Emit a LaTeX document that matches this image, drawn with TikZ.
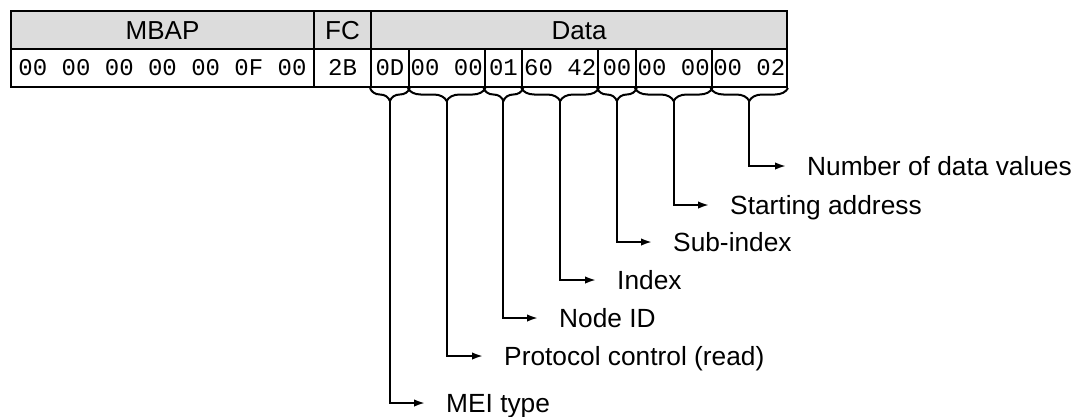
\documentclass[tikz,border=0pt]{standalone}
\usepackage{fontspec}
\setmainfont{Liberation Sans}
\newfontfamily\monof{Liberation Mono}
\usetikzlibrary{arrows.meta,decorations.pathreplacing}
\definecolor{hdrgray}{HTML}{DCDCDC}
\begin{document}
\begin{tikzpicture}[x=1pt,y=-1pt,
  cellbase/.style={draw, line width=2pt, inner sep=0pt, anchor=north west, minimum height=38pt},
  hdr/.style={cellbase, fill=hdrgray, font=\fontsize{26}{31}\selectfont, text height=18.6pt, text depth=0pt},
  dat/.style={cellbase, fill=white, font=\monof\fontsize{24}{28}\selectfont, text height=14pt, text depth=0pt},
  bracestyle/.style={draw, line width=2pt, decorate, decoration={brace, mirror, amplitude=13pt}},
  arr/.style={draw, line width=2pt, -{Latex[length=11pt,width=7.5pt]}, shorten >=21pt},
  lbl/.style={anchor=west, inner sep=0pt, font=\fontsize{26.3}{31}\selectfont, text height=18.8pt, text depth=0pt}]
\useasboundingbox (0,0) rectangle (1078,416);
% header row
\node[hdr, minimum width=303pt] (mbap) at (10,10) {MBAP};
\node[hdr, minimum width=57pt] (fc) at (313,10) {FC};
\node[hdr, minimum width=416pt] (data) at (370,10) {Data};
% data row
\node[dat, minimum width=303pt] (dmbap) at (10,48) {00 00 00 00 00 0F 00};
\node[dat, minimum width=57pt] (dfc) at (313,48) {2B};
\node[dat, minimum width=37.8pt] (c1) at (370,48) {0D};
\node[dat, minimum width=75.7pt] (c2) at (407.8,48) {00 00};
\node[dat, minimum width=37.8pt] (c3) at (483.5,48) {01};
\node[dat, minimum width=75.7pt] (c4) at (521.3,48) {60 42};
\node[dat, minimum width=37.8pt] (c5) at (597,48) {00};
\node[dat, minimum width=75.7pt] (c6) at (634.8,48) {00 00};
\node[dat, minimum width=75.5pt] (c7) at (710.5,48) {00 02};
% labels
\node[lbl] (l1) at (446,403) {MEI type};
\node[lbl] (l2) at (504,356) {Protocol control (read)};
\node[lbl] (l3) at (559,318) {Node ID};
\node[lbl] (l4) at (617,280) {Index};
\node[lbl] (l5) at (673,242) {Sub-index};
\node[lbl] (l6) at (730,205) {Starting address};
\node[lbl] (l7) at (807,166) {Number of data values};
% braces and arrows
\foreach \i in {1,...,7}{
  \path[bracestyle] (c\i.south west) -- (c\i.south east);
  \draw[arr] ([yshift=-13pt]c\i.south) |- (l\i.west);
}
\end{tikzpicture}
\end{document}
